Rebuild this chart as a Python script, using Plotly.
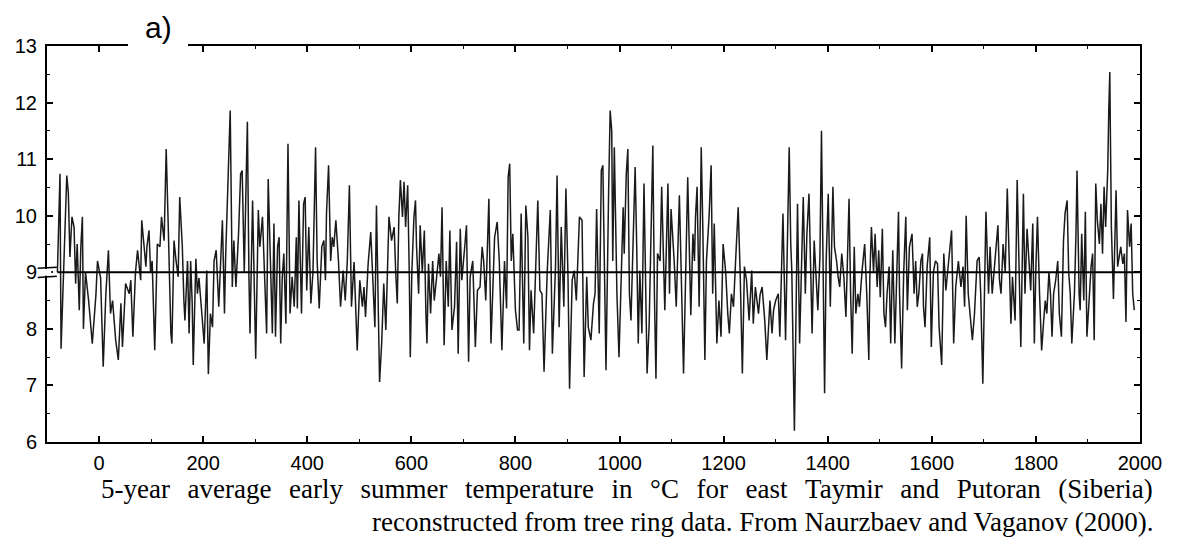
import plotly.graph_objects as go

# (year, temperature °C), in segments
seg1 = [(-80, 9.0), (-75, 10.74), (-73, 7.65), (-67, 9.5), (-62, 10.71), (-59, 10.4), (-56, 9.27),
        (-52, 9.98), (-48, 9.8), (-45, 8.8), (-42, 9.5), (-38, 8.33), (-35, 9.45), (-32, 9.98),
        (-30, 8.0), (-26, 9.0), (-20, 8.5), (-13, 7.74), (-6, 8.6), (-3, 9.2), (3, 8.9), (8, 7.33),
        (13, 8.6), (18, 9.39), (22, 8.27), (26, 8.5), (32, 7.8), (37, 7.45), (42, 8.45), (45, 7.68),
        (51, 8.8), (58, 8.62), (61, 8.86), (65, 7.86), (70, 9.0), (74, 9.39), (80, 8.86), (82, 9.92),
        (86, 9.45), (90, 9.1), (92, 9.45), (96, 9.74), (99, 9.0), (102, 9.2), (107, 7.62), (112, 9.5),
        (117, 9.45), (120, 9.98), (125, 9.56), (129, 11.18), (133, 9.8), (138, 7.92), (140, 7.74),
        (144, 9.56), (148, 9.2), (152, 8.92), (155, 10.33), (160, 9.45), (163, 8.5), (165, 8.15),
        (170, 9.2), (173, 7.92), (176, 9.2), (179, 8.45), (181, 7.36), (186, 9.24), (189, 8.62),
        (192, 8.9), (197, 8.33), (202, 7.74), (207, 9.03), (210, 7.2), (214, 8.27), (218, 8.03),
        (221, 9.2), (225, 9.39), (230, 8.39), (237, 9.92), (241, 8.27)]
seg2 = [(243, 9.2), (252, 11.86), (256, 8.74), (259, 9.56), (263, 8.74), (268, 9.68), (272, 10.74),
        (275, 10.8), (279, 9.0), (283, 10.8), (285, 11.66), (288, 8.92), (290, 7.92), (295, 10.27),
        (298, 9.0), (301, 7.47), (306, 10.1), (309, 9.45), (314, 9.98), (317, 9.1), (322, 7.92),
        (325, 10.65), (330, 8.62), (333, 7.92), (336, 9.86), (339, 7.86), (343, 9.45), (346, 9.62),
        (349, 7.74), (352, 8.92), (355, 9.33), (359, 8.09), (363, 11.27), (367, 8.27), (371, 8.92),
        (375, 8.39), (379, 9.62), (381, 8.36), (384, 10.27), (389, 8.27), (393, 10.21), (396, 10.33),
        (399, 8.68), (403, 9.8), (407, 8.45), (411, 9.0), (416, 11.21), (419, 9.2), (423, 8.36),
        (428, 9.45), (432, 9.56), (435, 8.86), (437, 10.04), (441, 10.89), (445, 9.2), (448, 9.62),
        (451, 9.45), (455, 9.92), (460, 9.2), (464, 8.39), (469, 9.03), (473, 8.5), (477, 9.2),
        (481, 10.54), (485, 8.39), (490, 9.18), (496, 7.62), (501, 8.86), (506, 8.39), (509, 8.74),
        (512, 8.21), (517, 9.15), (522, 9.71), (525, 9.15), (530, 8.03), (533, 10.18), (537, 7.45),
        (539, 7.06), (543, 7.74), (547, 8.8), (551, 7.98), (557, 9.98), (562, 9.56), (567, 9.8),
        (570, 9.0), (573, 8.45), (576, 9.98), (579, 10.63), (583, 9.98)]
seg3 = [(586, 10.6), (589, 9.8), (593, 10.54), (596, 9.0), (598, 7.5), (601, 9.0), (605, 9.98),
        (608, 10.27), (610, 9.45), (614, 8.62), (617, 9.83), (621, 9.0), (625, 9.74), (628, 8.27),
        (630, 7.74), (633, 9.15), (637, 8.27), (641, 9.2), (644, 8.5), (648, 8.86), (653, 9.33),
        (656, 8.92), (659, 10.15), (663, 7.71), (667, 9.2), (671, 8.39), (674, 9.74), (678, 7.98),
        (683, 8.39), (687, 9.54), (690, 7.56), (694, 9.77), (697, 8.86), (702, 9.39), (706, 9.83),
        (710, 7.42), (713, 8.92), (718, 9.2), (723, 7.68), (727, 8.68), (732, 8.74), (736, 9.45),
        (739, 9.2), (743, 8.5), (749, 10.3), (753, 7.74), (757, 9.0), (760, 9.62), (765, 9.89),
        (769, 9.2), (774, 7.62), (779, 9.2), (783, 8.36), (786, 10.68), (789, 10.92), (792, 9.2),
        (795, 9.68), (800, 8.33), (804, 7.98), (807, 7.98), (811, 10.04), (816, 7.74), (820, 10.18),
        (824, 9.62), (827, 7.62), (830, 8.68), (835, 7.92), (839, 9.0), (843, 10.27), (847, 8.68),
        (851, 8.62), (855, 7.24), (861, 9.0), (867, 10.1), (871, 7.56), (877, 9.1), (880, 10.71),
        (884, 8.03), (888, 9.8), (893, 8.39), (897, 10.48), (901, 8.92), (904, 6.94), (909, 8.86),
        (913, 9.03), (917, 8.5), (920, 9.15), (923, 9.98), (928, 9.92)]
seg4 = [(932, 7.15), (937, 8.92), (940, 8.03), (945, 7.8), (950, 8.45), (953, 8.62), (956, 10.12),
        (961, 7.92), (965, 10.8), (968, 10.89), (971, 8.62), (974, 7.27), (979, 10.39), (982, 11.86),
        (985, 11.5), (987, 9.2), (990, 11.21), (995, 8.62), (999, 7.5), (1003, 9.0), (1007, 10.15),
        (1009, 9.33), (1013, 10.74), (1016, 11.18), (1019, 8.62), (1022, 8.15), (1027, 9.62),
        (1030, 10.86), (1033, 9.45), (1036, 7.74), (1039, 9.03), (1043, 7.92), (1047, 10.57),
        (1050, 8.74), (1053, 7.21), (1057, 8.09), (1061, 9.92), (1064, 11.24), (1067, 8.62),
        (1070, 7.12), (1073, 9.33), (1078, 9.2), (1081, 10.51), (1084, 9.33), (1087, 8.33),
        (1093, 10.57), (1096, 8.62), (1099, 10.12), (1102, 9.68), (1105, 9.2), (1109, 8.39),
        (1112, 9.33), (1115, 10.36), (1118, 9.2), (1121, 8.27), (1123, 7.21), (1127, 8.92),
        (1131, 10.68), (1134, 9.45), (1137, 8.24), (1141, 9.68), (1144, 9.2), (1146, 9.98),
        (1149, 10.51), (1153, 8.39), (1157, 11.21), (1160, 9.8), (1164, 7.45), (1167, 9.2),
        (1172, 9.98), (1176, 10.89), (1179, 8.62), (1182, 9.86), (1187, 7.74), (1191, 8.5),
        (1195, 7.86), (1199, 9.5), (1204, 9.0), (1208, 8.27), (1211, 7.92), (1215, 8.62),
        (1219, 8.39), (1223, 9.2), (1228, 10.15), (1232, 8.92), (1236, 7.21), (1240, 9.1),
        (1244, 8.86), (1249, 8.15), (1254, 9.03), (1257, 8.09), (1261, 8.74), (1267, 8.27)]
seg5 = [(1270, 8.6), (1274, 8.74), (1279, 8.15), (1283, 7.45), (1289, 8.5), (1293, 7.92), (1296, 8.33),
        (1300, 8.5), (1305, 8.62), (1308, 7.86), (1312, 9.15), (1314, 10.04), (1319, 7.8), (1322, 9.2),
        (1326, 11.21), (1329, 9.5), (1331, 9.03), (1336, 6.2), (1340, 9.2), (1342, 10.21), (1346, 7.74),
        (1350, 9.2), (1353, 10.33), (1357, 8.62), (1360, 9.68), (1364, 10.39), (1367, 9.2), (1370, 7.92),
        (1374, 9.56), (1378, 8.74), (1381, 8.33), (1385, 9.27), (1388, 11.5), (1391, 9.2), (1394, 6.86),
        (1397, 9.2), (1401, 10.39), (1405, 8.39), (1410, 10.51), (1413, 9.45), (1417, 9.2), (1420, 8.92),
        (1423, 8.74), (1427, 9.33), (1431, 8.92), (1435, 8.21), (1438, 9.45), (1441, 10.3), (1444, 8.62),
        (1447, 7.56), (1451, 9.45), (1454, 8.27), (1458, 8.62), (1461, 8.39), (1466, 9.03), (1471, 9.5),
        (1475, 8.62), (1479, 7.45), (1481, 8.92), (1484, 9.8), (1488, 9.0), (1491, 9.68), (1495, 8.74),
        (1498, 9.39), (1501, 8.56), (1505, 9.77), (1508, 8.27), (1511, 8.03), (1514, 8.62), (1518, 9.1),
        (1521, 7.74), (1525, 9.39), (1529, 7.74), (1532, 8.62), (1536, 10.07), (1538, 8.62), (1542, 7.3),
        (1546, 9.0), (1550, 9.98), (1553, 8.33), (1557, 9.45), (1562, 9.68), (1566, 8.62), (1569, 9.2),
        (1572, 8.39), (1575, 8.62), (1579, 9.2), (1582, 9.33), (1584, 8.39), (1587, 8.03), (1591, 9.1),
        (1596, 9.62), (1599, 7.68), (1603, 9.0), (1607, 9.2)]
seg6 = [(1611, 9.15), (1614, 8.03), (1619, 7.36), (1623, 9.33), (1627, 8.68), (1632, 9.2), (1635, 9.56),
        (1638, 9.74), (1642, 7.74), (1646, 8.74), (1651, 9.2), (1656, 8.74), (1660, 9.1), (1663, 8.39),
        (1666, 10.0), (1670, 8.62), (1674, 8.21), (1678, 7.8), (1682, 8.27), (1687, 9.2), (1691, 9.27),
        (1694, 8.62), (1698, 7.03), (1701, 9.0), (1704, 10.07), (1709, 8.62), (1712, 9.45), (1716, 8.62),
        (1719, 8.92), (1723, 9.45), (1727, 9.83), (1730, 8.86), (1733, 8.62), (1737, 9.5), (1741, 9.0),
        (1745, 10.48), (1748, 9.2), (1752, 8.09), (1755, 8.92), (1760, 8.15), (1764, 10.63), (1767, 9.2),
        (1771, 7.68), (1776, 10.39), (1779, 8.62), (1783, 9.77), (1787, 9.2), (1790, 8.68), (1794, 9.86),
        (1797, 7.74), (1800, 9.1), (1803, 9.98), (1807, 8.62), (1811, 7.62), (1815, 8.15), (1818, 8.5),
        (1821, 8.27), (1825, 9.0), (1828, 8.62), (1831, 7.86), (1834, 8.62), (1838, 8.86), (1842, 9.2),
        (1845, 8.27), (1849, 7.86), (1853, 9.56), (1856, 10.04), (1860, 10.27), (1863, 9.0), (1866, 8.62),
        (1869, 7.74), (1874, 8.62), (1877, 9.68), (1879, 10.8), (1883, 8.62), (1885, 8.33), (1888, 9.68),
        (1892, 8.5), (1895, 10.07), (1898, 7.86), (1903, 8.62), (1906, 9.1), (1909, 9.33), (1912, 7.8),
        (1915, 10.57), (1918, 9.92), (1922, 9.5), (1925, 10.21), (1928, 9.33), (1931, 10.51), (1934, 9.8),
        (1938, 10.8), (1940, 11.86), (1942, 12.54), (1943, 11.57), (1945, 9.8), (1949, 8.53), (1952, 9.8),
        (1954, 10.45), (1957, 9.1), (1960, 9.33), (1963, 9.45), (1967, 9.15), (1970, 9.33), (1973, 8.12),
        (1976, 10.1), (1980, 9.45), (1983, 9.86), (1986, 8.62), (1989, 8.33)]

mean_temp = 9.0
x_ticks = [0, 200, 400, 600, 800, 1000, 1200, 1400, 1600, 1800, 2000]
y_ticks = [6, 7, 8, 9, 10, 11, 12, 13]
panel_label = "a)"
caption1_words = ["5-year", "average", "early", "summer", "temperature", "in", "°C", "for",
                  "east", "Taymir", "and", "Putoran", "(Siberia)"]
caption2 = "reconstructed from tree ring data. From Naurzbaev and Vaganov (2000)."

pairs = seg1 + seg2 + seg3 + seg4 + seg5 + seg6
years = [p[0] for p in pairs]
temps = [p[1] for p in pairs]

# first caption line is justified to the full width in the reference
caption1 = (" \u2009\u2009").join(caption1_words)

fig = go.Figure()
fig.add_trace(go.Scatter(x=years, y=temps, mode="lines",
                         line=dict(color="#1a1a1a", width=1.5), hoverinfo="skip"))

axis_common = dict(showline=True, linewidth=2, linecolor="black", mirror="ticks",
                   ticks="inside", ticklen=6, tickwidth=1.5, tickcolor="black",
                   showgrid=False, zeroline=False,
                   tickfont=dict(family="Liberation Sans, Arial, sans-serif", size=20, color="black"))

fig.update_layout(
    width=1178, height=546,
    margin=dict(l=47, r=38, t=46, b=104),
    plot_bgcolor="white", paper_bgcolor="white",
    showlegend=False,
    xaxis=dict(range=[-100, 2000], tickvals=x_ticks, ticktext=[str(v) for v in x_ticks],
               minor=dict(tickvals=[-100, 100, 300, 500, 700, 900, 1100, 1300, 1500, 1700, 1900],
                          ticks="inside", ticklen=3, tickwidth=1.2, tickcolor="black"),
               ticklabelstandoff=2, **axis_common),
    yaxis=dict(range=[6, 13], tickvals=y_ticks, ticktext=[str(v) for v in y_ticks],
               minor=dict(dtick=0.5, ticks="inside", ticklen=3, tickwidth=1.2, tickcolor="black"),
               ticklabelstandoff=4, **axis_common),
)

shapes = [
    dict(type="line", xref="x", yref="y", x0=-80, x1=2000, y0=mean_temp, y1=mean_temp,
         line=dict(color="black", width=2), layer="above"),
    # axis break marker on left axis at 9
    dict(type="rect", xref="paper", yref="y", x0=-0.004, x1=0.004, y0=8.94, y1=9.06,
         line=dict(width=0), fillcolor="white", layer="above"),
    dict(type="line", xref="paper", yref="y", x0=-0.0085, x1=0.009, y0=9.07, y1=9.09,
         line=dict(color="black", width=1.5), layer="above"),
    dict(type="line", xref="paper", yref="y", x0=-0.0085, x1=0.009, y0=8.91, y1=8.93,
         line=dict(color="black", width=1.5), layer="above"),
    # gap in top frame for the panel label
    dict(type="rect", xref="paper", yref="paper", x0=0.0741, x1=0.129, y0=0.985, y1=1.02,
         line=dict(width=0), fillcolor="white", layer="above"),
]
fig.update_layout(shapes=shapes)

fig.add_annotation(text=panel_label, xref="paper", yref="paper", x=0.1016, y=1.047,
                   xanchor="center", yanchor="middle", showarrow=False,
                   font=dict(family="Liberation Sans, Arial, sans-serif", size=30, color="black"))
fig.add_annotation(text=caption1, xref="paper", yref="paper", x=1.0137, y=-0.1187,
                   xanchor="right", yanchor="middle", showarrow=False,
                   font=dict(family="Liberation Serif, Times New Roman, serif", size=27, color="black"))
fig.add_annotation(text=caption2, xref="paper", yref="paper", x=1.0137, y=-0.202,
                   xanchor="right", yanchor="middle", showarrow=False,
                   font=dict(family="Liberation Serif, Times New Roman, serif", size=27, color="black"))

fig.write_html("out.html")
